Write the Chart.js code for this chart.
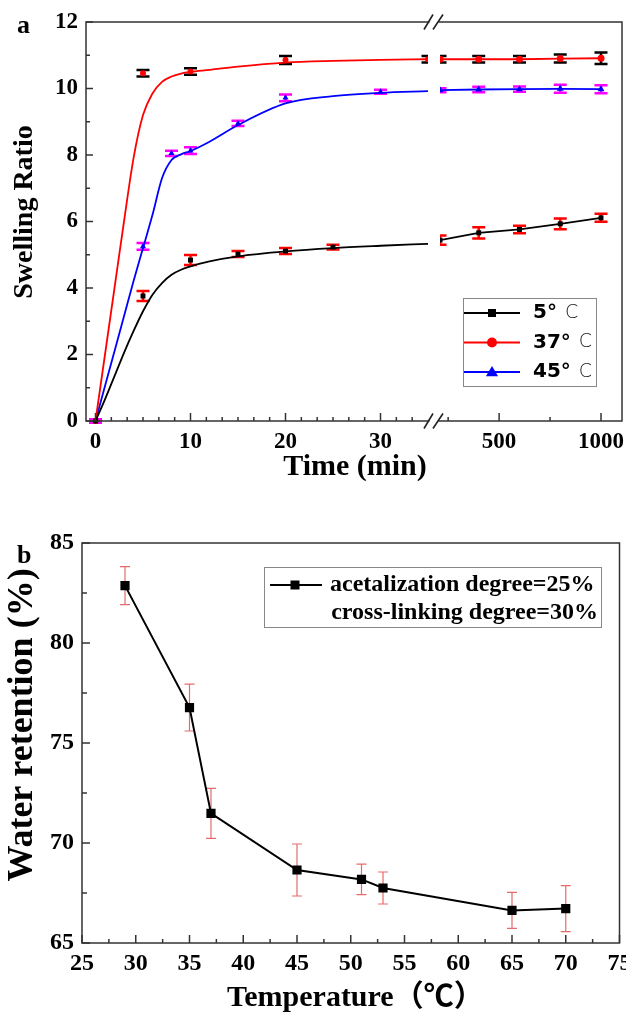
<!DOCTYPE html>
<html>
<head>
<meta charset="utf-8">
<script src="https://cdn.jsdelivr.net/npm/chart.js@4.4.1/dist/chart.umd.min.js"></script>
<style>
  body { margin: 0; background: #fff; }
  canvas { display: block; }
</style>
</head>
<body>
<canvas id="swelling" width="626" height="500"></canvas>
<canvas id="retention" width="626" height="514"></canvas>
<script>
// ---- panel a: swelling ratio against time ----
// measured points, short times (min)
const t5 = [0, 5, 10, 15, 20, 25];
const sr5 = [0, 3.76, 4.84, 5.02, 5.11, 5.23];
const err5 = [0.05, 0.15, 0.15, 0.09, 0.09, 0.07];
const t37 = [0, 5, 10, 20, 35];
const sr37 = [0, 10.46, 10.51, 10.86, 10.88];
const err37 = [0.05, 0.1, 0.1, 0.12, 0.1];
const t45 = [0, 5, 8, 10, 15, 20, 30];
const sr45 = [0, 5.25, 8.05, 8.13, 8.95, 9.72, 9.9];
const err45 = [0.05, 0.1, 0.08, 0.1, 0.08, 0.1, 0.06];
// measured points, long times (min)
const tLong = [210, 400, 600, 800, 1000];
const sr5Long = [5.44, 5.66, 5.76, 5.93, 6.11];
const err5Long = [0.14, 0.17, 0.11, 0.16, 0.12];
const sr37Long = [10.88, 10.88, 10.88, 10.9, 10.91];
const err37Long = [0.1, 0.1, 0.1, 0.12, 0.17];
const sr45Long = [9.95, 9.97, 9.98, 9.99, 9.98];
const err45Long = [0.06, 0.08, 0.08, 0.12, 0.12];
// fitted curves
const fitT = [0, 1, 2, 3, 4, 5, 6, 7, 8, 9, 10, 12, 15, 20, 25, 30, 35];
const fit5 = [0, 0.65, 1.35, 2.05, 2.7, 3.3, 3.8, 4.15, 4.4, 4.55, 4.65, 4.8, 4.95, 5.1, 5.2, 5.27, 5.33];
const fit37 = [0, 2.0, 4.0, 6.0, 7.9, 9.2, 9.85, 10.2, 10.36, 10.45, 10.5, 10.56, 10.66, 10.78, 10.83, 10.86, 10.88];
const fit45 = [0, 1.05, 2.1, 3.15, 4.2, 5.2, 6.2, 7.3, 7.85, 8.02, 8.12, 8.4, 8.9, 9.55, 9.77, 9.87, 9.92];
const seriesLabels = ['5° C', '37° C', '45° C'];
const timeTicksShort = [0, 10, 20, 30];
const timeTicksLong = [500, 1000];
const ratioTicks = [0, 2, 4, 6, 8, 10, 12];

// ---- panel b: water retention against temperature ----
const temps = [29, 35, 37, 45, 51, 53, 65, 70];
const retention = [82.87, 76.77, 71.48, 68.65, 68.18, 67.75, 66.63, 66.72];
const retentionErr = [0.95, 1.17, 1.25, 1.3, 0.76, 0.8, 0.9, 1.15];
const retentionLabels = ['acetalization degree=25%', 'cross-linking degree=30%'];
const tempTicks = [25, 30, 35, 40, 45, 50, 55, 60, 65, 70, 75];
const retentionTicks = [65, 70, 75, 80, 85];

const pts = (xs, ys) => xs.map((x, i) => ({ x: x, y: ys[i] }));
const serif = '"Liberation Serif", "Times New Roman", serif';
const plain = v => String(v);

function fixSize(w, h) {
  return s => {
    if (w != null) s.width = w;
    if (h != null) s.height = h;
    s.paddingLeft = s.paddingRight = s.paddingTop = s.paddingBottom = 0;
  };
}
function setTicks(values) {
  return s => { s.ticks = values.map(v => ({ value: v })); };
}

const errorBars = {
  id: 'errorBars',
  beforeDatasetsDraw(chart, args, opts) {
    const ctx = chart.ctx;
    chart.data.datasets.forEach((ds, i) => {
      if (!ds.errors) return;
      const meta = chart.getDatasetMeta(i);
      const xs = meta.xScale, ys = meta.yScale;
      ctx.save();
      ctx.beginPath();
      ctx.rect(xs.left, ys.top - 10, xs.right - xs.left, ys.bottom - ys.top + 20);
      ctx.clip();
      ctx.strokeStyle = ds.errorColor;
      ctx.lineWidth = opts.width;
      ds.data.forEach((p, j) => {
        const x = xs.getPixelForValue(p.x);
        const y1 = ys.getPixelForValue(p.y + ds.errors[j]);
        const y2 = ys.getPixelForValue(p.y - ds.errors[j]);
        ctx.beginPath();
        ctx.moveTo(x, y1); ctx.lineTo(x, y2);
        ctx.moveTo(x - opts.cap, y1); ctx.lineTo(x + opts.cap, y1);
        ctx.moveTo(x - opts.cap, y2); ctx.lineTo(x + opts.cap, y2);
        ctx.stroke();
      });
      ctx.restore();
    });
  }
};

// box round the plot and inward tick marks
const frame = {
  id: 'frame',
  afterDraw(chart, args, opts) {
    const { ctx, chartArea: a } = chart;
    ctx.save();
    ctx.strokeStyle = opts.color;
    ctx.lineWidth = opts.lineWidth;
    ctx.strokeRect(a.left, a.top, a.right - a.left, a.bottom - a.top);
    opts.marks.forEach(m => {
      const s = chart.scales[m.axis];
      m.values.forEach(v => {
        const p = s.getPixelForValue(v);
        ctx.beginPath();
        if (s.isHorizontal()) { ctx.moveTo(p, a.bottom); ctx.lineTo(p, a.bottom - m.len); }
        else { ctx.moveTo(a.left, p); ctx.lineTo(a.left + m.len, p); }
        ctx.stroke();
      });
    });
    if (opts.breakAxis) {
      const g = chart.scales[opts.breakAxis];
      const cx = (g.left + g.right) / 2 - 0.5;
      [a.top, a.bottom].forEach(y => {
        ctx.fillStyle = '#fff';
        ctx.fillRect(cx - 4, y - 3, 9, 6);
        ctx.strokeStyle = '#222';
        ctx.lineWidth = 1.6;
        ctx.beginPath();
        ctx.moveTo(cx - 9.5, y + 7.5); ctx.lineTo(cx - 0.5, y - 7.5);
        ctx.moveTo(cx - 0.5, y + 7.5); ctx.lineTo(cx + 9.5, y - 7.5);
        ctx.stroke();
      });
    }
    ctx.restore();
  }
};

const texts = {
  id: 'texts',
  afterDraw(chart, args, opts) {
    const ctx = chart.ctx;
    opts.items.forEach(t => {
      ctx.save();
      ctx.translate(t.x, t.y);
      if (t.rotate) ctx.rotate(t.rotate);
      ctx.font = t.font;
      ctx.fillStyle = '#000';
      ctx.textAlign = t.align || 'center';
      ctx.textBaseline = t.baseline || 'middle';
      ctx.fillText(t.text, 0, 0);
      ctx.restore();
    });
  }
};

function marker(ctx, style, x, y, r, color) {
  ctx.fillStyle = color;
  ctx.beginPath();
  if (style === 'rect') ctx.rect(x - r, y - r, 2 * r, 2 * r);
  else if (style === 'circle') ctx.arc(x, y, r, 0, Math.PI * 2);
  else { ctx.moveTo(x, y - r * 1.1); ctx.lineTo(x + r * 1.1, y + r * 0.75); ctx.lineTo(x - r * 1.1, y + r * 0.75); ctx.closePath(); }
  ctx.fill();
}

const legendA = {
  id: 'legendA',
  afterDraw(chart) {
    const ctx = chart.ctx;
    const styles = [['rect', '#000', 4], ['circle', '#ff0000', 5], ['triangle', '#0000ff', 5.5]];
    ctx.save();
    ctx.strokeStyle = '#888';
    ctx.lineWidth = 1;
    ctx.strokeRect(463.5, 298.5, 133, 88);
    seriesLabels.forEach((lab, i) => {
      const y = 313 + i * 29.5;
      const [style, color, r] = styles[i];
      ctx.strokeStyle = color;
      ctx.lineWidth = 1.8;
      ctx.beginPath(); ctx.moveTo(464, y); ctx.lineTo(520, y); ctx.stroke();
      marker(ctx, style, 492, y, r, color);
      const parts = lab.split(' ');
      ctx.fillStyle = '#000';
      ctx.textBaseline = 'middle';
      ctx.textAlign = 'left';
      ctx.font = 'bold 20px "DejaVu Sans"';
      ctx.fillText(parts[0], 533, y);
      const w = ctx.measureText(parts[0]).width;
      ctx.font = '300 19px "DejaVu Sans"';
      ctx.fillStyle = '#222';
      ctx.fillText(parts[1], 533 + w + 8, y);
    });
    ctx.restore();
  }
};

const legendB = {
  id: 'legendB',
  afterDraw(chart) {
    const ctx = chart.ctx;
    ctx.save();
    ctx.strokeStyle = '#888';
    ctx.lineWidth = 1;
    ctx.strokeRect(264.5, 67.5, 337, 60);
    ctx.strokeStyle = '#000';
    ctx.lineWidth = 2;
    ctx.beginPath(); ctx.moveTo(270, 85); ctx.lineTo(322, 85); ctx.stroke();
    marker(ctx, 'rect', 295, 85, 4.5, '#000');
    ctx.fillStyle = '#000';
    ctx.font = 'bold 24px ' + serif;
    ctx.textBaseline = 'middle';
    ctx.textAlign = 'left';
    ctx.fillText(retentionLabels[0], 330, 85);
    ctx.textAlign = 'right';
    ctx.fillText(retentionLabels[1], 598, 113);
    ctx.restore();
  }
};

function shortSet(label, xs, ys, errs, color, errColor, style, r) {
  return { label: label, data: pts(xs, ys), xAxisID: 'x', showLine: false, pointStyle: style,
    pointRadius: r, backgroundColor: color, borderColor: color, borderWidth: 0,
    errors: errs, errorColor: errColor, clip: { left: 10, right: 0, top: 10, bottom: 10 } };
}
function longSet(label, xs, ys, errs, color, errColor, style, r) {
  return { label: label, data: pts(xs, ys), xAxisID: 'x2', showLine: true, pointStyle: style,
    pointRadius: r, backgroundColor: color, borderColor: color, borderWidth: 1.8,
    pointBorderWidth: 0, errors: errs, errorColor: errColor, clip: { left: 0, right: 10, top: 10, bottom: 10 } };
}
function fitSet(label, ys, color) {
  return { label: label, data: pts(fitT, ys), xAxisID: 'x', showLine: true, pointRadius: 0,
    borderColor: color, borderWidth: 1.8, cubicInterpolationMode: 'monotone',
    clip: { left: 10, right: 0, top: 10, bottom: 10 } };
}

const minorShort = [];
for (let i = 0; i <= 20; i++) if (i % 6) minorShort.push(i * 10 / 6);

const tickFontA = { family: serif, weight: 'bold', size: 23 };
new Chart(document.getElementById('swelling'), {
  type: 'scatter',
  data: {
    datasets: [
      fitSet(seriesLabels[0], fit5, '#000'),
      fitSet(seriesLabels[1], fit37, '#ff0000'),
      fitSet(seriesLabels[2], fit45, '#0000ff'),
      shortSet(seriesLabels[0], t5, sr5, err5, '#000', '#ff0000', 'rect', 3.5),
      shortSet(seriesLabels[1], t37, sr37, err37, '#ff0000', '#000', 'circle', 3),
      shortSet(seriesLabels[2], t45, sr45, err45, '#0000ff', '#ff00ff', 'triangle', 3.5),
      longSet(seriesLabels[0], tLong, sr5Long, err5Long, '#000', '#ff0000', 'rect', 3.5),
      longSet(seriesLabels[1], tLong, sr37Long, err37Long, '#ff0000', '#000', 'circle', 3.5),
      longSet(seriesLabels[2], tLong, sr45Long, err45Long, '#0000ff', '#ff00ff', 'triangle', 4)
    ]
  },
  options: {
    responsive: false,
    animation: false,
    devicePixelRatio: 1,
    layout: { padding: { top: 22, right: 4, left: 0, bottom: 0 } },
    plugins: {
      legend: { display: false },
      tooltip: { enabled: false },
      errorBars: { width: 2.5, cap: 6.5 },
      frame: {
        color: '#333', lineWidth: 1.5, breakAxis: 'gap',
        marks: [
          { axis: 'x', values: timeTicksShort, len: 8 },
          { axis: 'x', values: minorShort, len: 4 },
          { axis: 'x2', values: timeTicksLong, len: 8 },
          { axis: 'x2', values: [250, 750], len: 4 },
          { axis: 'y', values: ratioTicks, len: 7 },
          { axis: 'y', values: [1, 3, 5, 7, 9, 11], len: 4 }
        ]
      },
      texts: {
        items: [
          { text: 'a', x: 17, y: 33, font: 'bold 26px ' + serif, align: 'left', baseline: 'alphabetic' },
          { text: 'Swelling Ratio', x: 25, y: 212, rotate: -Math.PI / 2, font: 'bold 28px ' + serif },
          { text: 'Time (min)', x: 355, y: 467, font: 'bold 30px ' + serif }
        ]
      }
    },
    scales: {
      x: {
        type: 'linear', position: 'bottom', stack: 'time', stackWeight: 342, min: -1, max: 35,
        grid: { display: false, drawTicks: false }, border: { display: false },
        ticks: { font: tickFontA, color: '#000', padding: 7, callback: plain },
        afterBuildTicks: setTicks(timeTicksShort), afterFit: fixSize(null, 79)
      },
      gap: {
        type: 'linear', position: 'bottom', stack: 'time', stackWeight: 12, min: 0, max: 1,
        grid: { display: false, drawTicks: false }, border: { display: false },
        ticks: { display: false }, afterFit: fixSize(null, 79)
      },
      x2: {
        type: 'linear', position: 'bottom', stack: 'time', stackWeight: 182, min: 210, max: 1103,
        grid: { display: false, drawTicks: false }, border: { display: false },
        ticks: { font: tickFontA, color: '#000', padding: 7, callback: plain },
        afterBuildTicks: setTicks(timeTicksLong), afterFit: fixSize(null, 79)
      },
      y: {
        type: 'linear', position: 'left', min: 0, max: 12,
        grid: { display: false, drawTicks: false }, border: { display: false },
        ticks: { font: tickFontA, color: '#000', padding: 8, callback: plain },
        afterBuildTicks: setTicks(ratioTicks), afterFit: fixSize(86, null)
      }
    }
  },
  plugins: [errorBars, frame, texts, legendA]
});

const tickFontB = { family: serif, weight: 'bold', size: 24 };
new Chart(document.getElementById('retention'), {
  type: 'scatter',
  data: {
    datasets: [{
      label: retentionLabels.join(' '),
      data: pts(temps, retention),
      showLine: true,
      pointStyle: 'rect',
      pointRadius: 6.5,
      backgroundColor: '#000',
      borderColor: '#000',
      borderWidth: 2,
      pointBorderWidth: 0,
      errors: retentionErr,
      errorColor: '#e66a6a'
    }]
  },
  options: {
    responsive: false,
    animation: false,
    devicePixelRatio: 1,
    layout: { padding: { top: 43, right: 3, left: 0, bottom: 0 } },
    plugins: {
      legend: { display: false },
      tooltip: { enabled: false },
      errorBars: { width: 1.2, cap: 5 },
      frame: {
        color: '#333', lineWidth: 1.5,
        marks: [
          { axis: 'x', values: tempTicks, len: 8 },
          { axis: 'x', values: [27.5, 32.5, 37.5, 42.5, 47.5, 52.5, 57.5, 62.5, 67.5, 72.5], len: 4 },
          { axis: 'y', values: retentionTicks, len: 8 },
          { axis: 'y', values: [67.5, 72.5, 77.5, 82.5], len: 5 }
        ]
      },
      texts: {
        items: [
          { text: 'b', x: 17, y: 63, font: 'bold 26px ' + serif, align: 'left', baseline: 'alphabetic' },
          { text: 'Water retention (%)', x: 23, y: 225, rotate: -Math.PI / 2, font: 'bold 36px ' + serif },
          { text: 'Temperature（℃）', x: 227, y: 498, align: 'left', font: 'bold 30px ' + serif + ', "Noto Sans CJK SC"' }
        ]
      }
    },
    scales: {
      x: {
        type: 'linear', position: 'bottom', min: 25, max: 75,
        grid: { display: false, drawTicks: false }, border: { display: false },
        ticks: { font: tickFontB, color: '#000', padding: 6, callback: plain },
        afterBuildTicks: setTicks(tempTicks), afterFit: fixSize(null, 71)
      },
      y: {
        type: 'linear', position: 'left', min: 65, max: 85,
        grid: { display: false, drawTicks: false }, border: { display: false },
        ticks: { font: tickFontB, color: '#000', padding: 8, callback: plain },
        afterBuildTicks: setTicks(retentionTicks), afterFit: fixSize(82, null)
      }
    }
  },
  plugins: [errorBars, frame, texts, legendB]
});
</script>
</body>
</html>
